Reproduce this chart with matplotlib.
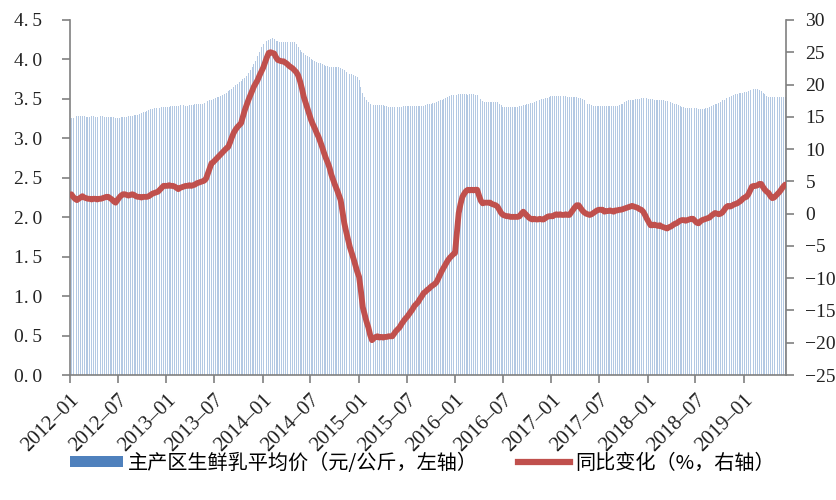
import matplotlib
matplotlib.use("Agg")
import matplotlib.pyplot as plt
import numpy as np
import pandas as pd
from matplotlib.lines import Line2D
from matplotlib.patches import Patch

# 主产区生鲜乳平均价（元/公斤），周度
price_2012 = [3.26,3.26,3.27,3.28,3.28,3.28,3.28,3.28,3.27,3.27,3.27,3.28,3.28,3.27,3.27,3.27,3.28,3.28,3.27,3.27,
              3.27,3.27,3.27,3.27,3.26,3.26,3.26,3.27,3.27,3.27,3.27,3.28,3.28,3.28,3.29,3.29,3.30,3.31,3.32,3.33,
              3.34,3.35,3.36,3.37,3.37,3.38,3.38,3.39,3.39,3.40,3.40,3.40]
price_2013 = [3.40,3.40,3.41,3.41,3.41,3.41,3.41,3.42,3.42,3.42,3.41,3.41,3.42,3.42,3.42,3.43,3.43,3.43,3.43,
              3.44,3.45,3.46,3.47,3.48,3.49,3.50,3.51,3.52,3.53,3.54,3.55,3.56,3.58,3.60,3.61,3.63,3.65,3.67,
              3.69,3.71,3.73,3.75,3.77,3.79,3.83,3.87,3.91,3.94,3.98,4.04,4.10,4.16]
price_2014 = [4.20,4.22,4.24,4.25,4.26,4.27,4.26,4.24,4.23,4.22,4.22,4.22,4.22,4.22,4.22,4.22,4.22,4.22,
              4.19,4.16,4.12,4.10,4.08,4.06,4.05,4.03,4.01,3.99,3.98,3.97,3.96,3.95,3.94,3.93,3.92,3.92,
              3.91,3.91,3.90,3.90,3.90,3.90,3.89,3.88,3.86,3.84,3.83,3.82,3.81,3.80,3.79,3.78]
price_2015 = [3.74,3.65,3.57,3.52,3.48,3.46,3.44,3.43,3.42,3.42,3.42,3.42,3.42,3.42,3.41,3.41,3.40,
              3.40,3.40,3.40,3.40,3.40,3.40,3.40,3.41,3.41,3.41,3.41,3.41,3.41,3.41,3.41,3.41,3.41,3.41,3.41,
              3.42,3.43,3.43,3.44,3.45,3.45,3.46,3.47,3.48,3.49,3.50,3.51,3.53,3.54,3.55,3.55]
price_2016 = [3.55,3.55,3.56,3.56,3.56,3.56,3.56,3.55,3.56,3.56,3.56,3.55,3.55,3.53,3.50,3.47,
              3.46,3.46,3.46,3.46,3.46,3.46,3.46,3.46,3.44,3.42,3.40,3.40,3.40,3.40,3.40,3.40,3.40,3.40,3.40,
              3.41,3.41,3.42,3.42,3.43,3.44,3.45,3.45,3.46,3.47,3.48,3.49,3.50,3.50,3.51,3.51,3.52]
price_2017 = [3.54,3.54,3.54,3.54,3.54,3.54,3.54,3.54,3.54,3.53,3.53,3.53,3.52,3.52,3.52,3.51,3.51,3.50,
              3.48,3.46,3.44,3.43,3.42,3.41,3.41,3.41,3.41,3.41,3.41,3.41,3.41,3.41,3.41,3.41,3.41,3.41,3.41,
              3.42,3.43,3.44,3.46,3.47,3.48,3.48,3.49,3.49,3.50,3.50,3.50,3.51,3.51,3.51]
price_2018 = [3.51,3.50,3.50,3.50,3.49,3.49,3.49,3.48,3.48,3.48,3.47,3.47,3.46,3.46,3.45,3.44,3.43,3.42,
              3.41,3.40,3.40,3.39,3.39,3.39,3.38,3.38,3.38,3.38,3.37,3.37,3.37,3.37,3.38,3.39,3.40,3.41,3.42,
              3.43,3.44,3.45,3.46,3.48,3.49,3.51,3.52,3.53,3.54,3.55,3.56,3.56,3.57,3.58]
price_2019 = [3.58,3.59,3.59,3.60,3.61,3.61,3.62,3.62,3.62,3.61,3.60,3.58,3.56,3.54,3.52,3.52,3.52,3.52,
              3.52,3.52,3.52,3.52,3.52,3.52]

# 同比变化（%）
yoy_2012 = [3.0,2.6,2.3,2.1,2.3,2.5,2.7,2.5,2.4,2.3,2.3,2.2,2.3,2.3,2.2,2.3,2.3,2.4,2.5,2.6,2.6,2.4,2.2,1.9,
            1.7,2.1,2.5,2.8,3.0,3.0,2.9,2.8,2.9,3.0,2.9,2.7,2.6,2.6,2.5,2.6,2.6,2.6,2.7,2.9,3.1,3.2,3.3,3.4,
            3.7,4.0,4.3,4.3]
yoy_2013 = [4.3,4.4,4.3,4.3,4.2,4.0,3.8,4.0,4.1,4.2,4.3,4.3,4.4,4.3,4.4,4.5,4.7,4.8,4.9,5.0,5.1,5.4,6.2,7.0,
            7.8,8.0,8.3,8.6,8.9,9.2,9.5,9.8,10.1,10.3,11.0,11.8,12.5,13.0,13.4,13.7,14.0,15.0,16.0,16.8,17.6,
            18.3,19.0,19.7,20.2,20.7,21.4,22.0]
yoy_2014 = [22.6,23.4,24.2,24.9,25.0,24.9,24.8,24.2,23.8,23.7,23.6,23.6,23.4,23.2,22.9,22.7,22.5,22.2,21.9,
            21.4,20.5,19.4,18.1,17.2,16.3,15.4,14.5,13.8,13.2,12.5,11.9,11.1,10.3,9.4,8.6,7.9,7.1,6.0,5.2,
            4.4,3.7,2.9,2.1,0.3,-1.5,-2.8,-4.0,-5.2,-6.1,-7.0,-8.0,-9.0]
yoy_2015 = [-9.8,-12.0,-14.5,-15.6,-16.7,-17.6,-18.8,-19.6,-19.3,-19.1,-19.0,-19.2,-19.1,-19.2,-19.1,-19.1,
            -19.0,-19.0,-19.0,-18.6,-18.2,-17.9,-17.6,-17.1,-16.7,-16.3,-16.0,-15.6,-15.2,-14.8,-14.3,-14.0,
            -13.7,-13.2,-12.8,-12.3,-12.1,-11.8,-11.6,-11.3,-11.1,-10.9,-10.6,-10.0,-9.4,-8.8,-8.3,-7.8,-7.3,
            -6.9,-6.6,-6.3]
yoy_2016 = [-6.1,-3.0,0.1,1.5,2.6,3.1,3.5,3.7,3.6,3.7,3.6,3.7,3.7,2.8,2.0,1.6,1.7,1.7,1.7,1.7,1.5,1.4,1.3,
            1.1,0.6,0.1,-0.2,-0.3,-0.4,-0.4,-0.5,-0.5,-0.5,-0.5,-0.5,-0.4,0.0,0.3,0.0,-0.3,-0.6,-0.8,-0.9,
            -0.8,-0.9,-0.9,-0.8,-0.9,-0.9,-0.7,-0.5,-0.4]
yoy_2017 = [-0.4,-0.4,-0.2,-0.1,-0.2,-0.1,-0.2,-0.2,-0.1,-0.2,-0.2,0.2,0.6,1.0,1.3,1.3,0.9,0.5,0.2,0.0,-0.1,
            -0.2,-0.1,0.1,0.3,0.5,0.6,0.6,0.6,0.3,0.4,0.4,0.5,0.4,0.3,0.5,0.5,0.6,0.6,0.7,0.8,0.9,1.0,1.1,
            1.2,1.1,1.0,0.9,0.7,0.6,0.3,-0.2]
yoy_2018 = [-0.8,-1.3,-1.8,-1.8,-1.7,-1.8,-1.9,-1.8,-2.0,-2.1,-2.2,-2.3,-2.1,-2.0,-1.8,-1.6,-1.5,-1.3,-1.1,
            -1.0,-1.0,-1.1,-1.0,-0.9,-0.8,-0.8,-1.1,-1.4,-1.5,-1.2,-1.0,-0.9,-0.8,-0.7,-0.6,-0.3,-0.1,0.1,
            0.0,-0.1,0.0,0.2,0.6,1.0,1.2,1.1,1.2,1.4,1.5,1.6,1.8,2.0]
yoy_2019 = [2.3,2.5,2.6,3.0,3.6,4.2,4.3,4.3,4.4,4.6,4.6,4.1,3.7,3.4,3.2,2.7,2.4,2.5,2.8,3.1,3.4,3.8,4.2,4.5]

tick_labels = ["2012–01", "2012–07", "2013–01", "2013–07", "2014–01", "2014–07", "2015–01", "2015–07",
               "2016–01", "2016–07", "2017–01", "2017–07", "2018–01", "2018–07", "2019–01"]

price = (price_2012 + price_2013 + price_2014 + price_2015 + price_2016 + price_2017 +
         price_2018 + price_2019)
yoy = yoy_2012 + yoy_2013 + yoy_2014 + yoy_2015 + yoy_2016 + yoy_2017 + yoy_2018 + yoy_2019
n = min(len(price), len(yoy))
price = price[:n]
yoy = yoy[:n]
dates = pd.date_range("2012-01-06", periods=n, freq="7D")

serif = ["Liberation Serif", "DejaVu Serif"]
cjk = ["Noto Sans CJK SC", "DejaVu Sans"]
grey = "#808080"

fig = plt.figure(figsize=(8.37, 5.0), dpi=100)
ax = fig.add_axes([70 / 837, 1 - 375 / 500, (786 - 70) / 837, 355 / 500])
ax2 = ax.twinx()

ax.bar(dates, price, width=3.6, color="#B4C9E3", linewidth=0, zorder=1)
ax2.plot(dates, yoy, color="#C0504D", linewidth=4.2, solid_capstyle="round", zorder=3)

ax.set_ylim(0, 4.5)
ax.set_yticks(np.arange(0, 4.51, 0.5))
ax.set_yticklabels([f"{v:.1f}".replace(".", ".\u2009") for v in np.arange(0, 4.51, 0.5)],
                   fontfamily=serif, fontsize=14)
ax2.set_ylim(-25, 30)
ax2.set_yticks(np.arange(-25, 31, 5))
ax2.set_yticklabels([(f"{v}" if v >= 0 else "\u2212" + str(-v)) for v in range(-25, 31, 5)],
                    fontfamily=serif, fontsize=14)

xticks = pd.date_range("2012-01-01", periods=len(tick_labels), freq="6MS")
ax.set_xticks(xticks)
ax.set_xticklabels(tick_labels, rotation=45, ha="right", rotation_mode="anchor",
                   fontfamily=serif, fontsize=15)
ax.set_xlim(pd.Timestamp("2012-01-01"), dates[-1] + pd.Timedelta(days=3))

for a in (ax, ax2):
    a.spines["top"].set_visible(False)
    for s in ("left", "right", "bottom"):
        a.spines[s].set_color(grey)
        a.spines[s].set_linewidth(1.2)
    a.tick_params(axis="both", labelcolor="#222222", color=grey, length=6, width=1.2, direction="out")
ax.spines["right"].set_visible(False)
ax2.spines["left"].set_visible(False)
ax2.spines["bottom"].set_visible(False)
ax.tick_params(axis="x", pad=5)
ax.tick_params(axis="y", pad=14)
ax2.tick_params(axis="y", pad=8)

handles = [Patch(facecolor="#4F81BD", edgecolor="none"),
           Line2D([0], [0], color="#C0504D", linewidth=4.5)]
labels = ["主产区生鲜乳平均价（元/公斤，左轴）", "同比变化（%，右轴）"]
fig.legend(handles, labels, loc="center", bbox_to_anchor=(0.505, 1 - 463 / 500), ncol=2, frameon=False,
           prop={"family": cjk, "size": 14.5}, handlelength=2.6, handleheight=0.5,
           columnspacing=2.0, handletextpad=0.25, borderpad=0, borderaxespad=0)

fig.savefig("out.png", dpi=100)
